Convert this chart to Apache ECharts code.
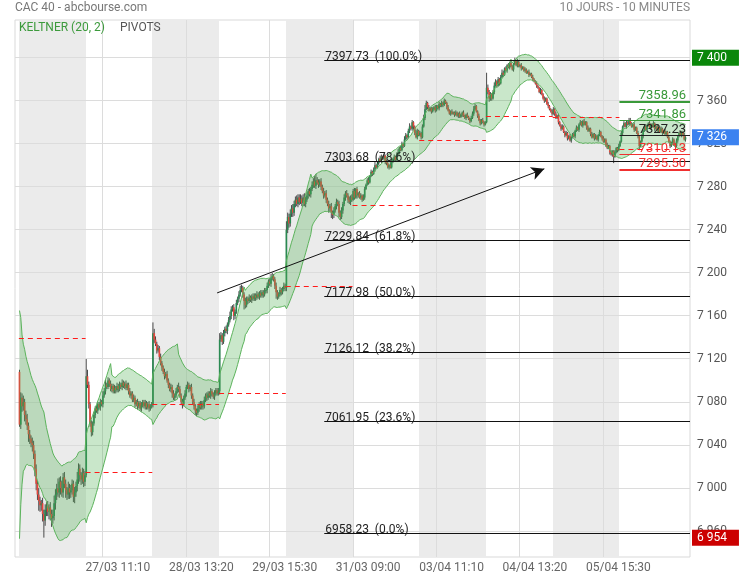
<!DOCTYPE html>
<html>
<head>
<meta charset="utf-8">
<script src="https://cdn.jsdelivr.net/npm/echarts@6/dist/echarts.min.js"></script>
<style>
  html, body { margin: 0; padding: 0; background: #fff; }
  #chart { width: 739px; height: 580px; }
</style>
</head>
<body>
<div id="chart"></div>
<script>
// 10 séances, bougies de 10 minutes (09:00 -> 17:30)
const days = ['24/03', '27/03', '28/03', '29/03', '30/03', '31/03', '03/04', '04/04', '05/04', '06/04'];
const firstOpen = 7108;

// clôtures, 52 par séance
const closes = [
  // 24/03
  7059,7084,7076,7080,7068,7064,7058,7050,7046,7042, 7040,7032,7018,7004,6994,6988,6984,6986,6976,6970,
  6980,6984,6978,6982,6976,6972,6974,6986,6994,7000, 6996,7006,7000,6996,7010,7004,6998,6994,7000,6996,
  6998,7004,6992,6996,7002,7008,7018,7012,7008,7014, 7006,7012,
  // 27/03
  7104,7096,7078,7060,7052,7060,7068,7074,7072,7078, 7075,7080,7078,7086,7090,7096,7094,7100,7097,7092,
  7095,7090,7093,7091,7095,7092,7096,7094,7098,7095, 7097,7093,7096,7090,7086,7088,7082,7084,7078,7080,
  7076,7079,7074,7077,7080,7076,7079,7075,7078,7074, 7076,7078,
  // 28/03
  7144,7138,7134,7128,7130,7122,7116,7112,7108,7104, 7106,7100,7096,7092,7094,7088,7084,7086,7090,7094,
  7092,7086,7080,7078,7084,7088,7094,7096,7092,7094, 7086,7080,7076,7072,7070,7074,7078,7075,7079,7076,
  7082,7086,7084,7088,7086,7090,7087,7085,7088,7091, 7088,7090,
  // 29/03
  7138,7142,7136,7144,7148,7146,7152,7156,7160,7166, 7168,7160,7164,7172,7176,7180,7184,7186,7180,7174,
  7170,7176,7174,7177,7175,7178,7176,7179,7177,7180, 7178,7181,7179,7182,7180,7183,7184,7188,7192,7190,
  7195,7197,7194,7188,7182,7178,7180,7184,7182,7185, 7188,7186,
  // 30/03
  7240,7252,7246,7255,7260,7256,7264,7268,7264,7270, 7266,7269,7265,7270,7264,7268,7272,7276,7273,7278,
  7282,7285,7281,7286,7284,7282,7285,7280,7276,7272, 7274,7268,7264,7260,7262,7256,7254,7258,7262,7266,
  7264,7256,7252,7258,7264,7270,7274,7272,7268,7266, 7270,7268,
  // 31/03
  7276,7270,7278,7272,7274,7270,7272,7268,7270,7278, 7282,7286,7284,7290,7294,7292,7296,7300,7298,7302,
  7306,7304,7308,7306,7309,7304,7302,7298,7300,7298, 7304,7306,7308,7305,7310,7312,7316,7314,7320,7318,
  7324,7328,7326,7332,7336,7334,7340,7336,7330,7326, 7332,7328,
  // 03/04
  7330,7326,7336,7344,7352,7358,7354,7351,7353,7350, 7352,7354,7351,7355,7353,7357,7355,7358,7356,7360,
  7358,7354,7351,7348,7350,7348,7349,7347,7349,7346, 7348,7345,7347,7349,7346,7344,7347,7345,7343,7341,
  7344,7348,7352,7355,7350,7346,7342,7339,7342,7340, 7338,7340,
  // 04/04
  7372,7368,7362,7366,7362,7368,7374,7378,7374,7380, 7376,7382,7386,7384,7390,7388,7393,7391,7395,7392,
  7389,7394,7397,7393,7396,7392,7393,7390,7391,7388, 7389,7386,7387,7384,7385,7382,7380,7378,7376,7374,
  7372,7368,7370,7366,7362,7360,7362,7357,7355,7352, 7350,7348,
  // 05/04
  7352,7348,7344,7346,7340,7337,7334,7336,7331,7328, 7330,7325,7327,7323,7326,7329,7327,7332,7335,7333,
  7338,7340,7337,7341,7338,7340,7335,7332,7334,7329, 7326,7329,7325,7327,7324,7328,7331,7327,7325,7322,
  7324,7319,7316,7318,7312,7310,7313,7308,7312,7316, 7314,7318,
  // 06/04
  7322,7330,7336,7339,7336,7340,7338,7342,7339,7336, 7338,7333,7335,7330,7327,7318,7322,7327,7332,7336,
  7333,7337,7339,7335,7338,7336,7339,7334,7336,7332, 7335,7331,7334,7330,7332,7329,7331,7326,7322,7318,
  7321,7324,7320,7318,7323,7327,7330,7328,7331,7328, 7324,7326
];

// mèches (points au-dessus / au-dessous du corps)
const wickUp = [
  2,5,4,6,3,4,5,3,4,3, 5,4,3,4,3,6,4,3,5,4, 5,3,4,3,5,4,6,7,5,4, 9,4,5,7,4,5,4,3,6,4, 5,4,3,5,4,7,5,4,3,5, 4,4,
  16,6,3,2,3,2,3,2,3,2, 2,3,2,4,3,5,2,3,2,3, 2,2,3,2,3,2,3,2,3,2, 2,3,2,2,3,2,2,3,2,2, 3,2,2,3,2,2,3,2,2,3, 2,2,
  10,4,3,2,3,2,3,2,2,3, 2,3,2,2,3,2,3,2,3,2, 4,3,2,3,2,3,2,3,2,2, 3,2,3,2,2,3,2,3,2,2, 3,2,3,2,2,3,2,2,3,2, 2,3,
  6,3,2,3,2,3,2,3,4,3, 2,3,2,3,2,3,4,3,2,2, 3,2,2,3,2,2,3,2,2,3, 2,2,3,2,2,3,2,3,2,3, 4,3,2,2,3,2,2,3,2,2, 3,2,
  8,4,3,4,3,4,3,3,4,3, 3,4,3,3,4,3,3,2,3,2, 3,3,5,6,3,3,2,3,2,3, 2,3,2,3,2,3,2,3,2,3, 2,3,2,3,2,3,2,3,2,3, 2,3,
  2,3,1,2,1,2,2,1,3,2, 1,2,3,1,2,1,2,3,1,2, 1,3,2,1,2,1,1,2,1,3, 2,1,2,1,2,3,1,2,2,1, 3,2,1,2,3,1,2,1,1,3, 2,1,
  2,1,2,3,4,2,1,2,1,1, 2,1,2,1,1,2,1,2,1,2, 1,1,2,1,1,2,1,1,2,1, 1,2,1,1,2,1,1,2,1,1, 2,2,3,2,1,1,2,1,1,2, 1,1,
  14,3,2,2,1,2,3,2,1,2, 1,2,3,2,1,2,1,2,1,2, 1,1,3,1,3,1,1,2,1,1, 2,1,1,2,1,1,2,1,1,2, 1,1,2,1,1,2,1,1,2,1, 1,2,
  2,1,2,1,2,1,1,2,1,1, 2,1,1,2,1,1,2,1,2,1, 1,2,1,1,2,1,1,2,1,1, 2,1,1,2,1,1,2,1,1,2, 1,1,2,1,1,2,1,1,2,1, 1,2,
  1,2,1,2,1,2,1,2,2,1, 1,2,1,1,2,1,1,2,1,1, 2,1,1,2,1,1,2,1,1,2, 1,1,2,1,1,2,1,1,2,1, 1,2,1,1,2,1,1,2,1,1, 2,1
];
const wickDown = [
  2,4,5,4,6,5,4,7,5,4, 6,5,7,6,5,9,6,5,7,16, 5,6,4,7,6,8,5,4,6,5, 4,5,6,4,5,4,7,5,4,6, 5,4,5,6,4,5,4,6,5,4, 5,4,
  2,3,4,3,4,3,2,3,2,3, 2,3,2,3,2,3,2,2,3,2, 3,2,2,3,2,3,2,2,3,2, 3,2,2,3,2,3,2,2,3,2, 3,2,2,3,2,2,3,2,2,3, 2,2,
  3,3,2,3,2,3,2,3,2,3, 2,2,3,2,3,4,2,3,2,2, 3,2,3,4,2,2,3,2,3,2, 3,2,3,4,3,2,3,2,2,3, 2,2,3,2,2,3,2,2,3,2, 2,2,
  3,2,3,2,3,2,3,2,2,3, 2,4,3,2,2,3,2,2,3,8, 3,2,3,2,2,3,2,2,3,2, 2,3,2,2,3,2,2,3,2,2, 3,2,2,3,6,3,2,2,3,2, 2,3,
  3,3,4,3,3,4,3,3,2,3, 3,2,3,3,2,3,2,3,2,3, 2,3,2,3,2,3,2,3,2,3, 2,3,2,4,3,5,4,3,2,3, 2,4,3,2,3,2,3,2,3,2, 3,2,
  1,2,1,3,2,1,2,2,1,2, 1,1,2,1,1,2,1,2,1,1, 2,1,2,1,1,3,2,1,2,1, 1,2,1,1,2,1,2,1,1,2, 1,1,2,1,2,1,2,3,2,1, 2,1,
  1,2,1,1,2,1,2,1,1,2, 1,1,2,1,1,2,1,1,2,1, 1,2,1,1,2,1,1,2,1,1, 2,1,1,2,1,1,2,1,1,2, 1,1,2,1,1,2,1,2,1,1, 2,1,
  1,2,3,2,2,1,2,1,2,1, 2,1,1,2,1,1,2,1,2,1, 1,2,1,1,2,1,1,2,1,1, 2,1,1,2,1,1,2,1,1,2, 1,1,2,1,1,2,1,1,2,1, 1,2,
  1,2,1,1,2,1,2,1,1,2, 1,2,1,1,2,1,1,2,1,1, 2,1,1,2,1,1,2,1,1,2, 1,1,2,1,1,2,1,1,2,1, 1,2,1,1,2,1,2,6,1,1, 2,1,
  1,1,2,1,1,2,1,1,2,1, 1,2,1,1,2,4,1,1,2,1, 1,2,1,1,2,1,1,2,1,1, 2,1,1,2,1,1,2,1,1,2, 1,1,2,1,1,2,1,1,2,1, 1,2
];

// pivots journaliers (tirets rouges)
const dayPivots = [7138.6, 7014.6, 7078, 7088, 7187, 7263, 7322.8, 7345.4, 7344.5, 7315];
// pivots pour la séance suivante (R2, R1, P, S1, S2)
const nextPivots = [7358.96, 7341.86, 7327.23, 7310.13, 7295.50];
const nextPivotColors = ['#3a9a3a', '#3a9a3a', '#222', '#f03030', '#f03030'];
const nextPivotWidths = [2, 1, 1, 1, 2];

// retracements de Fibonacci
const fibLevels = [7397.73, 7303.68, 7229.84, 7177.98, 7126.12, 7061.95, 6958.23];
const fibPercents = ['100.0%', '78.6%', '61.8%', '50.0%', '38.2%', '23.6%', '0.0%'];
const fibStart = '30/03 14:00';

// ligne de tendance
const trendFrom = ['28/03 17:20', 7181.4];
const trendTo = ['04/04 16:30', 7296.7];

const yTicks = [6960, 7000, 7040, 7080, 7120, 7160, 7200, 7240, 7280, 7320, 7360, 7400];
const xTickLabels = ['27/03 11:10', '28/03 13:20', '29/03 15:30', '31/03 09:00', '03/04 11:10', '04/04 13:20', '05/04 15:30'];

const LEAD = 3, TRAIL = 3, PER_DAY = 52;
const SLOTS = LEAD + closes.length + TRAIL;
const UP = '#2a8a52', DOWN = '#e8453c';
const font = 'Roboto';

const times = [];
days.forEach(d => {
  for (let k = 0; k < PER_DAY; k++) {
    const m = 540 + 10 * k;
    times.push(d + ' ' + String(Math.floor(m / 60)).padStart(2, '0') + ':' + String(m % 60).padStart(2, '0'));
  }
});
const slotOf = i => LEAD + i + 0.5;
const slotOfTime = t => slotOf(times.indexOf(t));
const dayStart = d => LEAD + d * PER_DAY;

const opens = closes.map((c, i) => i === 0 ? firstOpen : closes[i - 1]);
const highs = closes.map((c, i) => Math.max(opens[i], c) + wickUp[i]);
const lows = closes.map((c, i) => Math.min(opens[i], c) - wickDown[i]);

// Keltner (20, 2) : moyenne des clôtures +/- 2 x moyenne des amplitudes
const upper = [], lower = [];
for (let i = 0; i < closes.length; i++) {
  const from = Math.max(0, i - 19);
  let sc = 0, sr = 0;
  for (let j = from; j <= i; j++) { sc += closes[j]; sr += highs[j] - lows[j]; }
  const n = i - from + 1;
  upper.push(sc / n + 2 * sr / n);
  lower.push(sc / n - 2 * sr / n);
}

const fmt = v => String(Math.round(v)).replace(/\B(?=(\d{3})+(?!\d))/g, ' ');
const maxHigh = Math.max(...highs), minLow = Math.min(...lows), last = closes[closes.length - 1];
const xTickSlots = xTickLabels.map(slotOfTime);
const candleData = closes.map((c, i) => [slotOf(i), opens[i], c, lows[i], highs[i]]);

// lignes nettes (1px sur demi-pixel)
const crisp = (v, w) => (w % 2 === 1 ? Math.round(v - 0.5) + 0.5 : Math.round(v));

function hLine(api, x0, x1, v, stroke, width, dash) {
  const a = api.coord([x0, v]), b = api.coord([x1, v]);
  const y = crisp(a[1], width);
  return { type: 'line', shape: { x1: a[0], y1: y, x2: b[0], y2: y },
    style: { stroke: stroke, lineWidth: width, lineDash: dash || null } };
}

const chart = echarts.init(document.getElementById('chart'));

chart.setOption({
  animation: false,
  textStyle: { fontFamily: font },
  grid: { left: 15, right: 49, top: 20, bottom: 23, show: true, borderColor: '#d9d9d9', borderWidth: 1, backgroundColor: '#fff' },
  xAxis: {
    type: 'value', min: 0, max: SLOTS,
    axisLine: { show: false }, axisTick: { show: false }, splitLine: { show: false },
    axisLabel: {
      customValues: xTickSlots,
      formatter: v => {
        const k = xTickSlots.findIndex(s => Math.abs(s - v) < 0.01);
        return k >= 0 ? xTickLabels[k] : '';
      },
      color: '#666', fontSize: 12, fontFamily: font, margin: 5, padding: [0, 0, 0, 30]
    }
  },
  yAxis: {
    type: 'value', position: 'right', min: 6936, max: 7435,
    axisLine: { show: false }, axisTick: { show: false }, splitLine: { show: false },
    axisLabel: { customValues: yTicks, formatter: fmt, color: '#555', fontSize: 12, fontFamily: font, margin: 7, padding: [0, 0, 5, 0] }
  },
  graphic: [
    { type: 'text', z: 100, left: 15, top: 2, style: { text: 'CAC 40 - abcbourse.com', fill: '#777', font: '12px Roboto' } },
    { type: 'text', z: 100, right: 49, top: 2, style: { text: '10 JOURS - 10 MINUTES', fill: '#888', font: '12px Roboto' } },
    { type: 'text', z: 100, left: 19, top: 22, style: { text: 'KELTNER (20, 2)', fill: '#3c9a3c', font: '12px Roboto' } },
    { type: 'text', z: 100, left: 120, top: 22, style: { text: 'PIVOTS', fill: '#555', font: '12px Roboto' } }
  ],
  series: [
    {
      // fond : séances grisées + quadrillage
      type: 'custom', z: 1, silent: true, clip: true,
      data: [[slotOf(0), yTicks[0]]],
      renderItem: (params, api) => {
        const children = [];
        days.forEach((d, k) => {
          if (k % 2) return;
          const a = api.coord([dayStart(k), 7435]), b = api.coord([dayStart(k) + PER_DAY, 6936]);
          const x0 = Math.round(a[0]), x1 = Math.round(b[0]);
          children.push({ type: 'rect', shape: { x: x0, y: a[1], width: x1 - x0, height: b[1] - a[1] }, style: { fill: '#ebebeb' } });
        });
        yTicks.forEach(v => children.push(hLine(api, 0, SLOTS, v, '#dcdcdc', 1)));
        xTickSlots.forEach(s => {
          const a = api.coord([s, 7435]), b = api.coord([s, 6936]);
          const x = crisp(a[0], 1);
          children.push({ type: 'line', shape: { x1: x, y1: a[1], x2: x, y2: b[1] }, style: { stroke: '#dcdcdc', lineWidth: 1 } });
        });
        return { type: 'group', children: children };
      }
    },
    {
      type: 'custom', name: 'CAC 40', z: 2, data: candleData,
      encode: { x: 0, y: [1, 2, 3, 4] },
      renderItem: (params, api) => {
        const x = api.value(0), o = api.value(1), c = api.value(2), l = api.value(3), h = api.value(4);
        const pH = api.coord([x, h]), pL = api.coord([x, l]);
        const pO = api.coord([x, o]), pC = api.coord([x, c]);
        const w = api.size([1, 0])[0] * 1.3;
        const top = Math.min(pO[1], pC[1]), bot = Math.max(pO[1], pC[1]);
        return {
          type: 'group',
          children: [
            { type: 'line', shape: { x1: pH[0], y1: pH[1], x2: pL[0], y2: pL[1] }, style: { stroke: '#4a4a4a', lineWidth: 1 } },
            { type: 'rect', shape: { x: pO[0] - w / 2, y: top, width: w, height: Math.max(bot - top, 1) }, style: { fill: c >= o ? UP : DOWN } }
          ]
        };
      }
    },
    {
      type: 'custom', name: 'KELTNER', z: 3, silent: true,
      data: [[slotOf(0), lower[0]]],
      renderItem: (params, api) => {
        const up = upper.map((v, i) => api.coord([slotOf(i), v]));
        const lo = lower.map((v, i) => api.coord([slotOf(i), v]));
        return {
          type: 'group',
          children: [
            { type: 'polygon', shape: { points: up.concat(lo.slice().reverse()) }, style: { fill: 'rgba(76,175,80,0.3)' } },
            { type: 'polyline', shape: { points: up }, style: { stroke: '#5cb35c', fill: 'none', lineWidth: 1 } },
            { type: 'polyline', shape: { points: lo }, style: { stroke: '#5cb35c', fill: 'none', lineWidth: 1 } }
          ]
        };
      }
    },
    {
      // pivots, Fibonacci, pivots de la séance suivante
      type: 'custom', z: 4, silent: true,
      data: [[slotOf(0), yTicks[0]]],
      renderItem: (params, api) => {
        const children = [];
        dayPivots.forEach((p, d) => children.push(hLine(api, dayStart(d), dayStart(d) + PER_DAY, p, '#ff1a1a', 1, [5, 4])));
        const fx = slotOfTime(fibStart) - 0.5;
        fibLevels.forEach((v, k) => {
          const ln = hLine(api, fx, SLOTS, v, '#111', 1);
          children.push(ln);
          children.push({ type: 'text', x: ln.shape.x1 + 1, y: ln.shape.y1 + 2,
            style: { text: v.toFixed(2) + '  (' + fibPercents[k] + ')', fill: '#222', font: '12px Roboto', align: 'left', verticalAlign: 'bottom' } });
        });
        const nx = dayStart(days.length - 1);
        nextPivots.forEach((v, k) => {
          const ln = hLine(api, nx, SLOTS, v, nextPivotColors[k], nextPivotWidths[k]);
          children.push(ln);
          children.push({ type: 'text', x: ln.shape.x2 - 4, y: ln.shape.y1 - nextPivotWidths[k] / 2 + 1,
            style: { text: v.toFixed(2), fill: nextPivotColors[k], font: '13px Roboto', align: 'right', verticalAlign: 'bottom' } });
        });
        return { type: 'group', children: children };
      }
    },
    {
      // tendance
      type: 'line', data: [], z: 5, silent: true,
      markLine: {
        silent: true, symbol: ['none', 'arrow'], symbolSize: [10, 13], label: { show: false },
        lineStyle: { color: '#111', type: 'solid', width: 1 },
        data: [[{ coord: [slotOfTime(trendFrom[0]), trendFrom[1]] }, { coord: [slotOfTime(trendTo[0]), trendTo[1]] }]]
      }
    },
    {
      // plus haut, dernier, plus bas
      type: 'line', data: [], z: 7, silent: true,
      markLine: {
        silent: true, symbol: 'none', lineStyle: { color: 'rgba(0,0,0,0)', width: 0 },
        label: { show: true, position: 'end', distance: 2, color: '#fff', fontSize: 12, fontFamily: font, padding: [2, 12, 2, 5] },
        data: [
          { yAxis: maxHigh, label: { backgroundColor: '#0a870a', formatter: fmt(maxHigh) } },
          { yAxis: last, label: { backgroundColor: '#3b82f0', formatter: fmt(last) } },
          { yAxis: minLow, label: { backgroundColor: '#cc0000', formatter: fmt(minLow) } }
        ]
      }
    }
  ]
});
</script>
</body>
</html>
